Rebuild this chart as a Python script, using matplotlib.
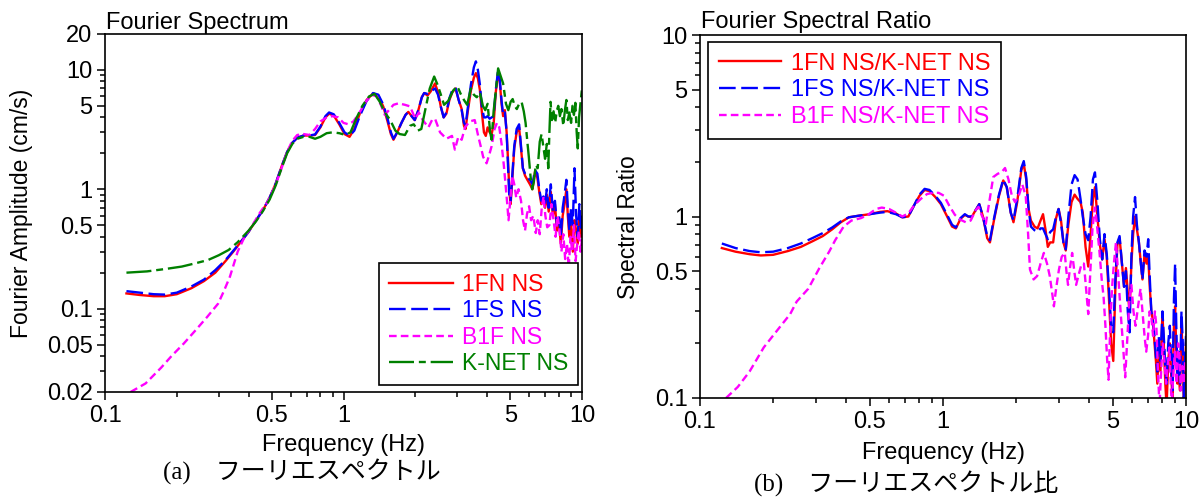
import numpy as np
import matplotlib
matplotlib.use("Agg")
import matplotlib.pyplot as plt
from matplotlib.ticker import LogLocator, NullFormatter

plt.rcParams["font.family"] = ["Liberation Sans", "DejaVu Sans"]
plt.rcParams["lines.scale_dashes"] = False

# ---------------- Fourier spectra (cm/s) ----------------
freq_1fn = [0.123, 0.14, 0.16, 0.178, 0.20, 0.23, 0.26, 0.29, 0.32, 0.345, 0.37, 0.40, 0.43, 0.46,
            0.49, 0.52, 0.55, 0.58, 0.61, 0.64, 0.68, 0.72, 0.76, 0.80, 0.84, 0.87, 0.91, 0.96,
            1.01, 1.06, 1.11, 1.17, 1.25, 1.33, 1.40, 1.47, 1.53, 1.58, 1.62, 1.68, 1.75, 1.82,
            1.87, 1.93, 1.99, 2.06, 2.13, 2.18, 2.25, 2.32, 2.42, 2.49, 2.56, 2.63, 2.70, 2.78,
            2.86, 2.95, 3.04, 3.13, 3.20, 3.25, 3.32, 3.42, 3.52, 3.59, 3.66, 3.73, 3.80, 3.88,
            3.95, 4.02, 4.10, 4.18, 4.26, 4.35, 4.45, 4.52, 4.60, 4.67, 4.75, 4.83, 4.90, 4.96,
            5.02, 5.10, 5.20, 5.32, 5.45, 5.55, 5.65, 5.77, 5.90, 6.05, 6.20, 6.35, 6.50, 6.62,
            6.75, 6.89, 7.00, 7.12, 7.25, 7.40, 7.55, 7.70, 7.85, 8.00, 8.15, 8.30, 8.45, 8.60,
            8.72, 8.85, 9.00, 9.15, 9.30, 9.45, 9.60, 9.75, 9.90, 10.0]
amp_1fn = [0.134, 0.130, 0.127, 0.127, 0.132, 0.148, 0.17, 0.20, 0.25, 0.30, 0.36, 0.44, 0.55, 0.67,
           0.85, 1.12, 1.55, 2.05, 2.45, 2.70, 2.82, 2.82, 2.85, 3.3, 4.0, 4.3, 4.15, 3.5,
           2.9, 2.75, 3.2, 4.3, 5.6, 6.35, 6.1, 4.9, 3.7, 2.9, 2.6, 3.0, 3.6, 4.2,
           4.45, 4.1, 3.8, 4.6, 5.9, 6.4, 6.1, 6.6, 7.7, 6.5, 4.9, 4.0, 4.3, 5.6,
           6.5, 7.0, 5.6, 4.7, 3.4, 3.2, 4.5, 6.7, 8.6, 9.4, 8.5, 6.8, 4.5, 3.0,
           2.8, 3.3, 3.0, 2.9, 3.5, 6.5, 9.5, 8.0, 5.2, 4.1, 4.6, 3.0, 1.7, 0.95,
           0.75, 1.2, 2.2, 3.0, 3.3, 2.2, 1.5, 1.3, 1.2, 1.1, 1.0, 1.4, 1.25, 0.95,
           0.75, 0.85, 0.70, 0.9, 0.65, 0.95, 0.6, 0.75, 0.45, 0.55, 0.35, 0.6, 0.75, 1.0,
           0.6, 0.4, 0.5, 0.3, 0.55, 0.45, 0.35, 0.6, 0.4, 0.5]

freq_1fs = freq_1fn
amp_1fs = [0.140, 0.136, 0.132, 0.131, 0.136, 0.153, 0.175, 0.21, 0.255, 0.305, 0.36, 0.44, 0.55, 0.67,
           0.85, 1.12, 1.55, 2.05, 2.45, 2.70, 2.82, 2.82, 2.88, 3.35, 4.1, 4.4, 4.25, 3.6,
           3.0, 2.8, 3.1, 4.1, 5.5, 6.4, 6.2, 5.1, 3.9, 3.0, 2.65, 3.0, 3.6, 4.2,
           4.45, 4.1, 3.8, 4.6, 5.9, 6.4, 6.3, 6.6, 7.0, 6.2, 4.9, 4.0, 4.4, 5.8,
           6.8, 7.1, 5.6, 4.6, 3.6, 3.45, 4.8, 7.5, 10.5, 11.8, 10.0, 7.6, 5.0, 4.0,
           4.0, 4.1, 3.9, 4.0, 4.1, 6.8, 10.0, 8.4, 5.5, 4.2, 4.4, 3.0, 1.5, 0.85,
           0.8, 1.3, 2.3, 3.2, 3.5, 2.3, 1.5, 1.35, 1.25, 1.2, 1.1, 1.45, 1.35, 1.0,
           0.8, 0.87, 0.75, 1.0, 0.7, 1.1, 0.65, 0.8, 0.5, 0.62, 0.4, 0.7, 0.9, 1.2,
           0.7, 0.45, 0.7, 0.5, 1.5, 0.6, 0.4, 0.75, 0.45, 0.6]

freq_b1f = [0.128, 0.148, 0.172, 0.19, 0.214, 0.24, 0.268, 0.298, 0.315, 0.334, 0.36, 0.385, 0.41,
            0.447, 0.48, 0.52, 0.55, 0.58, 0.61, 0.64, 0.68, 0.72, 0.76, 0.80, 0.85, 0.90, 0.95,
            1.00, 1.05, 1.10, 1.16, 1.24, 1.31, 1.38, 1.44, 1.49, 1.55, 1.62, 1.70, 1.81, 1.90,
            2.00, 2.07, 2.15, 2.27, 2.35, 2.42, 2.54, 2.70, 2.85, 2.93, 3.03, 3.13, 3.23, 3.38,
            3.55, 3.67, 3.78, 3.85, 3.98, 4.10, 4.18, 4.30, 4.40, 4.50, 4.60, 4.70, 4.78, 4.86,
            4.92, 5.00, 5.10, 5.20, 5.30, 5.42, 5.55, 5.66, 5.77, 5.88, 6.00, 6.12, 6.25, 6.40,
            6.52, 6.65, 6.78, 6.90, 7.02, 7.15, 7.30, 7.45, 7.60, 7.75, 7.90, 8.05, 8.20, 8.35,
            8.50, 8.65, 8.80, 8.95, 9.10, 9.25, 9.40, 9.55, 9.70, 9.85, 10.0]
amp_b1f = [0.020, 0.0236, 0.032, 0.040, 0.051, 0.066, 0.085, 0.11, 0.14, 0.185, 0.30, 0.40, 0.48,
           0.64, 0.78, 1.1, 1.5, 2.05, 2.55, 2.85, 2.9, 2.85, 3.2, 3.7, 4.0, 4.1, 4.0,
           3.6, 3.5, 3.7, 4.3, 5.4, 6.2, 6.0, 5.0, 4.2, 4.6, 5.1, 5.25, 5.1, 4.95,
           3.9, 4.4, 3.8, 3.3, 3.8, 3.9, 3.0, 2.65, 2.8, 2.15, 2.75, 2.6, 3.3, 3.7,
           3.8, 2.8, 2.2, 1.87, 1.65, 2.0, 2.3, 3.2, 3.6, 3.3, 2.4, 1.6, 1.1, 0.75,
           0.55, 0.8, 1.3, 1.1, 0.85, 1.0, 0.8, 0.55, 0.45, 0.62, 0.72, 0.55, 0.6, 0.43,
           0.55, 0.42, 0.7, 0.87, 0.6, 0.48, 0.5, 0.75, 0.55, 0.4, 0.6, 0.45, 0.3, 0.42,
           0.26, 0.35, 0.22, 0.4, 0.3, 0.5, 0.25, 0.35, 0.45, 0.3, 0.38]

freq_knet = [0.123, 0.15, 0.18, 0.21, 0.24, 0.27, 0.30, 0.33, 0.36, 0.40, 0.43, 0.46, 0.49, 0.52,
             0.55, 0.58, 0.61, 0.64, 0.68, 0.72, 0.76, 0.80, 0.85, 0.90, 0.96, 1.02, 1.07, 1.13,
             1.20, 1.28, 1.35, 1.42, 1.49, 1.57, 1.65, 1.72, 1.81, 1.90, 1.97, 2.05, 2.12, 2.20,
             2.30, 2.40, 2.48, 2.56, 2.64, 2.75, 2.88, 3.00, 3.10, 3.20, 3.30, 3.42, 3.52, 3.62,
             3.73, 3.84, 3.93, 4.02, 4.12, 4.18, 4.26, 4.35, 4.45, 4.55, 4.67, 4.80, 4.91, 5.02,
             5.12, 5.22, 5.33, 5.45, 5.58, 5.70, 5.80, 5.90, 5.98, 6.08, 6.18, 6.28, 6.40, 6.52,
             6.65, 6.77, 6.88, 7.00, 7.12, 7.22, 7.30, 7.38, 7.48, 7.60, 7.72, 7.83, 7.95, 8.08,
             8.20, 8.35, 8.48, 8.60, 8.72, 8.85, 9.00, 9.12, 9.25, 9.38, 9.50, 9.60, 9.72, 9.85, 10.0]
amp_knet = [0.200, 0.205, 0.215, 0.225, 0.24, 0.255, 0.28, 0.31, 0.36, 0.45, 0.54, 0.66, 0.82, 1.08,
            1.5, 2.0, 2.4, 2.65, 2.75, 2.75, 2.65, 2.75, 2.95, 3.0, 2.95, 2.85, 3.0, 3.9,
            5.0, 6.0, 6.3, 5.4, 4.4, 3.8, 3.1, 2.9, 2.85, 3.4, 3.5, 3.1, 3.2, 4.6,
            7.0, 8.8, 7.5, 6.2, 5.1, 5.5, 6.7, 7.3, 6.3, 5.6, 5.1, 7.0, 6.2, 5.9,
            6.5, 5.0, 4.6, 5.2, 3.0, 2.6, 4.5, 6.6, 10.3, 9.0, 7.7, 5.2, 4.6, 5.4,
            5.7, 5.0, 4.7, 5.2, 5.4, 4.5, 3.6, 2.5, 1.9, 1.3, 1.0, 1.15, 1.6, 1.5,
            2.5, 2.9, 2.3, 1.8, 2.4, 1.5, 3.0, 5.4, 3.8, 4.5, 3.6, 4.5, 5.0, 4.1,
            4.7, 3.4, 4.6, 5.6, 3.8, 4.4, 3.6, 5.0, 4.2, 5.3, 3.0, 2.2, 4.0, 5.2, 7.0]

# ---------------- Spectral ratios to K-NET ----------------
freq_ratio = [0.123, 0.14, 0.16, 0.178, 0.20, 0.23, 0.26, 0.29, 0.32, 0.35, 0.38, 0.41, 0.45, 0.50,
              0.55, 0.59, 0.64, 0.68, 0.72, 0.76, 0.80, 0.84, 0.88, 0.93, 0.98, 1.04, 1.09, 1.13,
              1.18, 1.23, 1.27, 1.31, 1.36, 1.41, 1.46, 1.52, 1.56, 1.62, 1.70, 1.77, 1.83, 1.90,
              1.95, 2.02, 2.10, 2.15, 2.20, 2.25, 2.30, 2.38, 2.45, 2.52, 2.58, 2.64, 2.70, 2.76,
              2.84, 2.92, 2.99, 3.06, 3.13, 3.20, 3.28, 3.38, 3.48, 3.58, 3.68, 3.76, 3.86, 3.96,
              4.05, 4.14, 4.22, 4.32, 4.42, 4.52, 4.62, 4.72, 4.82, 4.92, 5.02, 5.12, 5.22, 5.33,
              5.45, 5.56, 5.66, 5.76, 5.86, 5.96, 6.06, 6.17, 6.28, 6.40, 6.52, 6.62, 6.75, 6.88,
              6.99, 7.10, 7.20, 7.30, 7.42, 7.52, 7.62, 7.72, 7.85, 8.00, 8.10, 8.22, 8.32, 8.45,
              8.58, 8.70, 8.80, 8.92, 9.02, 9.12, 9.22, 9.32, 9.45, 9.58, 9.70, 9.80, 9.90, 10.0]
ratio_1fn = [0.67, 0.64, 0.62, 0.61, 0.615, 0.645, 0.68, 0.73, 0.78, 0.85, 0.93, 0.99, 1.01, 1.03,
             1.06, 1.07, 1.04, 0.99, 1.0, 1.15, 1.3, 1.4, 1.38, 1.28, 1.17, 1.0, 0.88, 0.86,
             0.97, 1.02, 1.0, 0.99, 1.08, 1.17, 1.0, 0.76, 0.72, 0.95, 1.3, 1.58, 1.45, 1.05,
             0.93, 1.2, 1.8, 1.95, 1.6, 1.1, 0.95, 0.88, 0.86, 0.95, 1.03, 0.85, 0.68, 0.72,
             0.72, 0.98, 1.1, 0.95, 0.72, 0.65, 0.9, 1.2, 1.32, 1.25, 1.2, 1.05, 0.68, 0.53,
             0.8, 1.25, 1.45, 1.0, 0.7, 0.58, 0.75, 0.6, 0.35, 0.2, 0.16, 0.4, 0.7, 0.76,
             0.55, 0.41, 0.52, 0.38, 0.3, 0.55, 0.8, 1.0, 0.85, 0.72, 0.55, 0.45, 0.62, 0.55,
             0.6, 0.4, 0.3, 0.27, 0.2, 0.16, 0.12, 0.18, 0.14, 0.29, 0.2, 0.12, 0.09, 0.16,
             0.2, 0.13, 0.1, 0.25, 0.32, 0.18, 0.12, 0.14, 0.11, 0.25, 0.17, 0.09, 0.14, 0.2]
ratio_1fs = [0.71, 0.67, 0.645, 0.635, 0.64, 0.67, 0.71, 0.76, 0.81, 0.87, 0.94, 0.99, 1.01, 1.03,
             1.05, 1.06, 1.03, 0.99, 1.0, 1.15, 1.32, 1.42, 1.40, 1.3, 1.19, 1.02, 0.9, 0.87,
             0.98, 1.03, 1.0, 1.0, 1.08, 1.17, 1.0, 0.78, 0.74, 0.97, 1.32, 1.6, 1.45, 1.05,
             0.95, 1.25, 1.85, 2.02, 1.65, 1.1, 0.88, 0.84, 0.82, 0.86, 0.86, 0.8, 0.75, 0.82,
             0.85, 1.0, 1.1, 0.92, 0.72, 0.66, 1.0, 1.5, 1.69, 1.6, 1.25, 1.0, 0.8, 0.74,
             1.0, 1.6, 1.75, 1.2, 0.75, 0.58, 0.8, 0.62, 0.4, 0.25, 0.23, 0.45, 0.72, 0.78,
             0.55, 0.41, 0.5, 0.3, 0.23, 0.6, 1.0, 1.28, 0.9, 0.72, 0.55, 0.45, 0.65, 0.6,
             0.75, 0.45, 0.3, 0.27, 0.22, 0.17, 0.14, 0.22, 0.16, 0.3, 0.22, 0.15, 0.12, 0.2,
             0.25, 0.15, 0.11, 0.35, 0.55, 0.25, 0.13, 0.18, 0.12, 0.3, 0.2, 0.1, 0.16, 0.22]

freq_ratio_b1f = [0.128, 0.143, 0.16, 0.183, 0.21, 0.235, 0.25, 0.279, 0.31, 0.34, 0.36, 0.39, 0.42,
                  0.46, 0.49, 0.53, 0.56, 0.60, 0.64, 0.68, 0.72, 0.76, 0.81, 0.86, 0.91, 0.96, 1.01,
                  1.06, 1.12, 1.18, 1.24, 1.30, 1.36, 1.40, 1.45, 1.50, 1.55, 1.61, 1.68, 1.74, 1.80,
                  1.86, 1.92, 1.98, 2.05, 2.12, 2.19, 2.24, 2.28, 2.36, 2.44, 2.52, 2.60, 2.68, 2.75,
                  2.82, 2.86, 2.92, 3.00, 3.08, 3.17, 3.22, 3.27, 3.33, 3.40, 3.47, 3.53, 3.62, 3.72,
                  3.80, 3.88, 3.96, 4.04, 4.12, 4.22, 4.30, 4.40, 4.50, 4.58, 4.66, 4.74, 4.80, 4.88,
                  4.96, 5.05, 5.15, 5.25, 5.38, 5.50, 5.62, 5.72, 5.85, 5.96, 6.08, 6.20, 6.35, 6.50,
                  6.62, 6.75, 6.86, 6.98, 7.08, 7.20, 7.32, 7.45, 7.55, 7.65, 7.78, 7.90, 8.02, 8.15,
                  8.28, 8.40, 8.55, 8.65, 8.75, 8.85, 9.00, 9.15, 9.28, 9.40, 9.52, 9.65, 9.80, 9.92, 10.0]
ratio_b1f = [0.10, 0.115, 0.14, 0.19, 0.24, 0.29, 0.34, 0.40, 0.52, 0.64, 0.74, 0.88, 0.95,
             0.98, 1.02, 1.1, 1.12, 1.1, 1.05, 1.0, 1.04, 1.15, 1.25, 1.33, 1.35, 1.35, 1.3,
             1.15, 1.02, 0.96, 0.93, 0.95, 1.08, 1.13, 1.0, 0.91, 1.2, 1.65, 1.72, 1.75, 1.85,
             1.6, 1.3, 1.2, 1.3, 1.5, 1.3, 0.8, 0.51, 0.45, 0.47, 0.55, 0.63, 0.55, 0.47,
             0.37, 0.32, 0.4, 0.51, 0.6, 0.63, 0.5, 0.42, 0.52, 0.63, 0.5, 0.42, 0.48, 0.55,
             0.55, 0.4, 0.29, 0.5, 0.85, 1.12, 0.9, 0.65, 0.45, 0.36, 0.25, 0.16, 0.126, 0.25,
             0.4, 0.55, 0.72, 0.5, 0.3, 0.2, 0.13, 0.2, 0.35, 0.42, 0.3, 0.25, 0.32, 0.4,
             0.3, 0.22, 0.18, 0.22, 0.3, 0.28, 0.22, 0.3, 0.25, 0.15, 0.09, 0.14, 0.2, 0.16,
             0.12, 0.15, 0.19, 0.12, 0.09, 0.13, 0.18, 0.12, 0.2, 0.17, 0.11, 0.15, 0.12, 0.16, 0.13]

x_ticks = [0.1, 0.5, 1, 5, 10]
x_tick_labels = ["0.1", "0.5", "1", "5", "10"]
spec_ticks = [0.02, 0.05, 0.1, 0.5, 1, 5, 10, 20]
spec_tick_labels = ["0.02", "0.05", "0.1", "0.5", "1", "5", "10", "20"]
ratio_ticks = [0.1, 0.5, 1, 5, 10]
ratio_tick_labels = ["0.1", "0.5", "1", "5", "10"]

RED, BLUE, MAGENTA, GREEN = "#ff0000", "#0000ff", "#ff00ff", "#008000"
LW = 1.7
solid = dict(color=RED, lw=LW, ls="-")
longdash = dict(color=BLUE, lw=LW, dashes=(12, 4))
shortdash = dict(color=MAGENTA, lw=LW, dashes=(5.5, 3))
dashdot = dict(color=GREEN, lw=LW, dashes=(18, 3.5, 5, 3.5))

W, H = 1202, 501
fig = plt.figure(figsize=(W / 100, H / 100), dpi=100)
ax1 = fig.add_axes([105 / W, 1 - 392 / H, 477 / W, 358 / H])
ax2 = fig.add_axes([700 / W, 1 - 398 / H, 486 / W, 363 / H])

FS = 17


def frame(ax, ylim, yticks, ylabels):
    ax.set_xscale("log")
    ax.set_yscale("log")
    ax.set_xlim(0.1, 10)
    ax.set_ylim(*ylim)
    ax.set_xticks(x_ticks, x_tick_labels)
    ax.set_yticks(yticks, ylabels)
    for axis in (ax.xaxis, ax.yaxis):
        axis.set_minor_locator(LogLocator(base=10, subs=np.arange(2, 10), numticks=30))
        axis.set_minor_formatter(NullFormatter())
    ax.tick_params(which="both", direction="out", top=False, right=False, width=1.1,
                   labelsize=FS, pad=3)
    ax.tick_params(which="major", length=6)
    ax.tick_params(which="minor", length=3.5)
    for sp in ax.spines.values():
        sp.set_linewidth(1.2)


def legend(ax, size, **kw):
    leg = ax.legend(fontsize=size, frameon=True, fancybox=False, framealpha=1,
                    edgecolor="black", borderaxespad=0, handletextpad=0.4, **kw)
    leg.get_frame().set_linewidth(1.2)
    for txt, ln in zip(leg.get_texts(), leg.get_lines()):
        txt.set_color(ln.get_color())
    return leg


# (a) Fourier spectra
frame(ax1, (0.02, 20), spec_ticks, spec_tick_labels)
ax1.plot(freq_1fn, amp_1fn, label="1FN NS", **solid)
ax1.plot(freq_1fs, amp_1fs, label="1FS NS", **longdash)
ax1.plot(freq_b1f, amp_b1f, label="B1F NS", **shortdash)
ax1.plot(freq_knet, amp_knet, label="K-NET NS", **dashdot)
legend(ax1, 16.5, loc="lower right", bbox_to_anchor=(0.992, 0.02), labelspacing=0.15,
       borderpad=0.42, handlelength=2.8)
ax1.text(0.002, 1.013, "Fourier Spectrum", transform=ax1.transAxes, fontsize=FS,
         ha="left", va="baseline")
ax1.set_xlabel("Frequency (Hz)", fontsize=FS, va="center")
ax1.xaxis.set_label_coords(0.5, -0.148)
ax1.set_ylabel("Fourier Amplitude (cm/s)", fontsize=16.5, va="center")
ax1.yaxis.set_label_coords(-0.176, 0.5)

# (b) spectral ratios
frame(ax2, (0.1, 10), ratio_ticks, ratio_tick_labels)
ax2.plot(freq_ratio, ratio_1fn, label="1FN NS/K-NET NS", **solid)
ax2.plot(freq_ratio, ratio_1fs, label="1FS NS/K-NET NS", **longdash)
ax2.plot(freq_ratio_b1f, ratio_b1f, label="B1F NS/K-NET NS", **shortdash)
legend(ax2, 17, loc="upper left", bbox_to_anchor=(0.0165, 0.981), labelspacing=0.2,
       borderpad=0.45, handlelength=2.65)
ax2.text(0.002, 1.018, "Fourier Spectral Ratio", transform=ax2.transAxes, fontsize=FS,
         ha="left", va="baseline")
ax2.set_xlabel("Frequency (Hz)", fontsize=FS, va="center")
ax2.xaxis.set_label_coords(0.5, -0.1515)
ax2.set_ylabel("Spectral Ratio", fontsize=16.5, va="center")
ax2.yaxis.set_label_coords(-0.148, 0.47)

# panel captions
cap_font = ["Liberation Serif", "Noto Sans CJK JP"]
fig.text(302 / W, 1 - 472 / H, "(a)\u3000フーリエスペクトル", ha="center", va="center",
         fontsize=18, family=cap_font)
fig.text(906 / W, 1 - 484 / H, "(b)\u3000フーリエスペクトル比", ha="center", va="center",
         fontsize=18, family=cap_font)

fig.savefig("out.png", dpi=100)
